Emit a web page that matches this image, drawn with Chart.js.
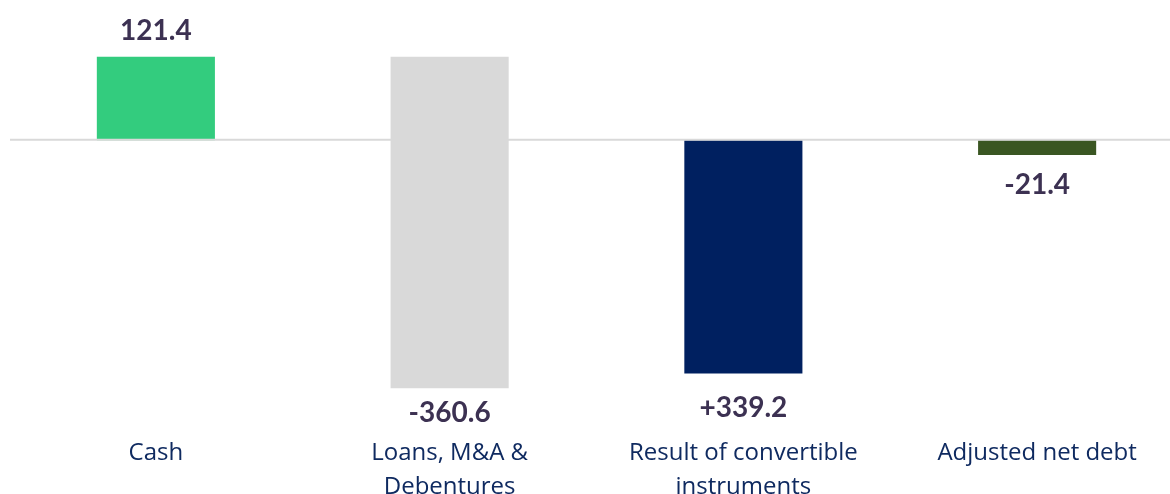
<!DOCTYPE html>
<html>
<head>
<meta charset="utf-8">
<script src="https://cdn.jsdelivr.net/npm/chart.js@4.4.0/dist/chart.umd.min.js"></script>
<style>
  html, body { margin: 0; padding: 0; background: #ffffff; overflow: hidden; }
  #wrap { width: 1170px; height: 494px; overflow: hidden; position: relative; }
  canvas { display: block; }
</style>
</head>
<body>
<div id="wrap"><canvas id="c" width="1184" height="511"></canvas></div>
<script>
// ---- data ----
const categories = [["Cash"], ["Loans, M&A &", "Debentures"], ["Result of convertible", "instruments"], ["Adjusted net debt"]];
const barStart = [0, 121.4, 0, 0];
const barEnd = [121.4, -360.6, -339.2, -21.4];
const valueLabels = ["121.4", "-360.6", "+339.2", "-21.4"];
const barColors = ["#33cc7e", "#d9d9d9", "#002060", "#3a5622"];

const floating = barStart.map((s, i) => [s, barEnd[i]]);

const labelOffsets = [26, 25, 35, 30];

const valueLabelPlugin = {
  id: 'valueLabels',
  afterDatasetsDraw(chart) {
    const ctx = chart.ctx;
    const yScale = chart.scales.y;
    // zero line
    const y0 = yScale.getPixelForValue(0) - 0.5;
    ctx.save();
    ctx.strokeStyle = '#d9d9d9';
    ctx.lineWidth = 2;
    ctx.beginPath();
    ctx.moveTo(10, y0);
    ctx.lineTo(chart.chartArea.right, y0);
    ctx.stroke();

    const meta = chart.getDatasetMeta(0);
    ctx.font = 'bold 28px Lato';
    ctx.fillStyle = '#3c3152';
    ctx.textAlign = 'center';
    ctx.textBaseline = 'middle';
    meta.data.forEach((bar, i) => {
      const top = Math.min(bar.y, bar.base);
      const bottom = Math.max(bar.y, bar.base);
      const positive = barEnd[i] > barStart[i] && barEnd[i] > 0;
      const y = positive ? top - labelOffsets[i] : bottom + labelOffsets[i];
      ctx.fillText(valueLabels[i], bar.x, y);
    });
    ctx.restore();
  }
};

new Chart(document.getElementById('c'), {
  type: 'bar',
  data: {
    labels: categories,
    datasets: [{
      data: floating,
      backgroundColor: barColors,
      borderWidth: 0,
      categoryPercentage: 1.0,
      barPercentage: 0.402
    }]
  },
  options: {
    responsive: false,
    animation: false,
    devicePixelRatio: 1,
    layout: { padding: { left: 9, right: 0, top: 0, bottom: 0 } },
    plugins: { legend: { display: false }, tooltip: { enabled: false } },
    scales: {
      y: {
        display: false,
        min: -420,
        max: 204
      },
      x: {
        grid: { display: false, drawTicks: false },
        border: { display: false },
        ticks: {
          padding: 7,
          color: '#0f2a60',
          font: { family: 'Open Sans', size: 24, lineHeight: 34 / 24 },
          maxRotation: 0,
          autoSkip: false
        }
      }
    }
  },
  plugins: [valueLabelPlugin]
});
</script>
</body>
</html>
